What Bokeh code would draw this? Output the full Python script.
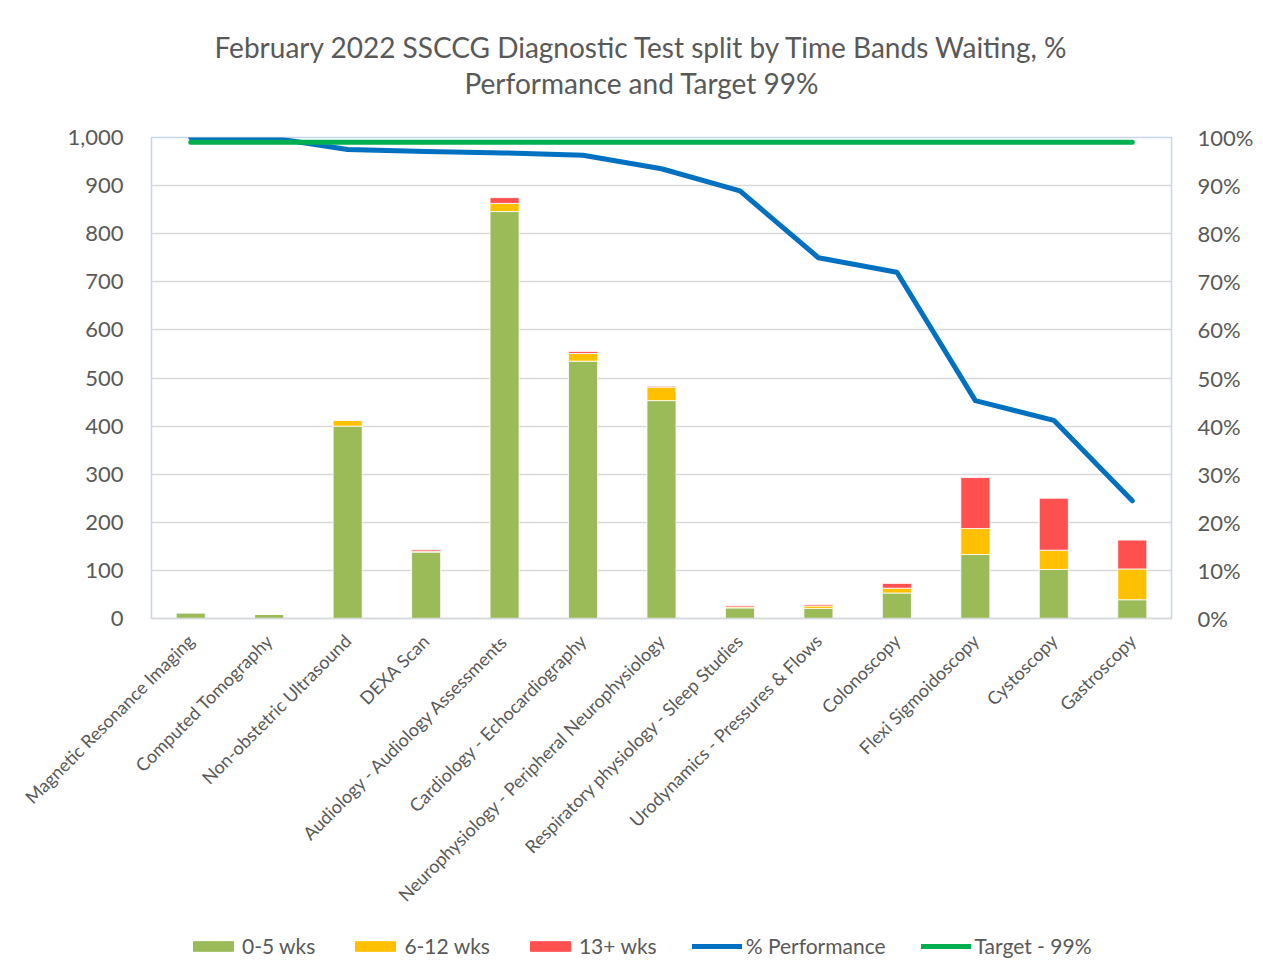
import math
from bokeh.plotting import figure
from bokeh.layouts import column
from bokeh.models import (ColumnDataSource, FactorRange, Range1d, LinearAxis,
                          NumeralTickFormatter, Legend, LegendItem, Title)
from bokeh.embed import file_html
from bokeh.resources import INLINE

cats = ["Magnetic Resonance Imaging", "Computed Tomography", "Non-obstetric Ultrasound",
        "DEXA Scan", "Audiology - Audiology Assessments", "Cardiology - Echocardiography",
        "Neurophysiology - Peripheral Neurophysiology", "Respiratory physiology - Sleep Studies",
        "Urodynamics - Pressures & Flows", "Colonoscopy", "Flexi Sigmoidoscopy",
        "Cystoscopy", "Gastroscopy"]
w0_5 = [12, 9, 400, 138, 846, 535, 453, 22, 21, 53, 133, 102, 39]
w6_12 = [0, 0, 12, 2, 17, 16, 28, 2, 5, 10, 54, 40, 64]
w13 = [0, 0, 0, 3, 12, 4, 2, 3, 3, 10, 106, 108, 60]
perf = [1.0, 1.0, 0.975, 0.971, 0.968, 0.963, 0.935, 0.889, 0.75, 0.72, 0.453, 0.412, 0.245]
target = [0.99] * len(cats)
series_labels = ["0-5 wks", "6-12 wks", "13+ wks", "% Performance", "Target - 99%"]
title_lines = ["February 2022 SSCCG Diagnostic Test split by Time Bands Waiting, %",
               "Performance and Target 99%"]

FONT = "Lato"
GREY = "#595959"
COLORS = ["#9BBB59", "#FFC000", "#FF5050"]
BLUE = "#0070C0"
GREEN = "#00B050"

source = ColumnDataSource(data=dict(cats=cats, a=w0_5, b=w6_12, c=w13, perf=perf, target=target))

p = figure(x_range=FactorRange(*cats), y_range=Range1d(0, 1000),
           width=1260, height=920, output_backend="svg", toolbar_location=None,
           min_border_left=151, min_border_right=89, min_border_top=137, min_border_bottom=302)
p.extra_y_ranges = {"pct": Range1d(0, 1)}

p.vbar_stack(["a", "b", "c"], x="cats", width=0.37, source=source,
             color=COLORS, line_color="white", line_width=0.8)
p.line("cats", "perf", source=source, y_range_name="pct", line_color=BLUE,
       line_width=5, line_cap="round", line_join="round")
p.line("cats", "target", source=source, y_range_name="pct", line_color=GREEN,
       line_width=5, line_cap="round")

# titles: spacer (closest to the frame), then line 2, then line 1
p.add_layout(Title(text=" ", text_font_size="10px", standoff=25), "above")
for line, off in zip(reversed(title_lines), [313, 63]):
    p.add_layout(Title(text=line, align="left", text_font=FONT,
                       text_font_size="28px", text_font_style="normal", text_color=GREY,
                       standoff=0, offset=off), "above")

# left axis
ya = p.yaxis[0]
ya.formatter = NumeralTickFormatter(format="0,0")
ya.ticker.desired_num_ticks = 10
ya.axis_line_color = None
ya.major_tick_line_color = None
ya.minor_tick_line_color = None
ya.major_label_text_font = FONT
ya.major_label_text_font_size = "22px"
ya.major_label_text_color = GREY
ya.major_label_standoff = 22

# right axis
ra = LinearAxis(y_range_name="pct", formatter=NumeralTickFormatter(format="0%"))
ra.ticker.desired_num_ticks = 10
ra.axis_line_color = None
ra.major_tick_line_color = None
ra.minor_tick_line_color = None
ra.major_label_text_font = FONT
ra.major_label_text_font_size = "22px"
ra.major_label_text_color = GREY
ra.major_label_standoff = 20
p.add_layout(ra, "right")

# x axis
xa = p.xaxis[0]
xa.major_label_orientation = math.pi / 4
xa.major_label_text_font = FONT
xa.major_label_text_font_size = "18px"
xa.major_label_text_color = GREY
xa.axis_line_color = "#D9D9D9"
xa.axis_line_width = 1.5
xa.major_tick_line_color = None
xa.minor_tick_line_color = None
xa.major_label_standoff = 13

p.xgrid.grid_line_color = None
p.ygrid.grid_line_color = "#D9D9D9"
p.ygrid.grid_line_width = 1.5
p.x_range.range_padding = 0
p.x_range.group_padding = 0
p.outline_line_color = "#C5D7EC"
p.outline_line_width = 1.5

# legend strip
lg = figure(width=1260, height=55, output_backend="svg", toolbar_location=None,
            x_range=Range1d(0, 1), y_range=Range1d(0, 1), min_border=0)
lg.axis.visible = False
lg.grid.visible = False
lg.outline_line_color = None
dummy = ColumnDataSource(data=dict(x=[-10, -9], top=[0, 0], y=[-10, -10]))
r = [lg.vbar(x="x", top="top", width=0.1, color=c, source=dummy) for c in COLORS]
r.append(lg.line(x="x", y="y", line_color=BLUE, line_width=5, line_cap="round", source=dummy))
r.append(lg.line(x="x", y="y", line_color=GREEN, line_width=5, line_cap="round", source=dummy))
legend = Legend(items=[LegendItem(label=l, renderers=[rr]) for l, rr in zip(series_labels, r)],
                orientation="horizontal", location=(37, 17))
legend.label_text_font = FONT
legend.label_text_font_size = "21px"
legend.label_text_color = GREY
legend.glyph_width = 50
legend.glyph_height = 12
legend.spacing = 35
legend.label_standoff = 4
legend.border_line_color = None
legend.background_fill_alpha = 0
legend.margin = 0
legend.padding = 4
lg.add_layout(legend, "center")

layout = column(p, lg, spacing=0)
open("out.html", "w").write(file_html(layout, INLINE))
